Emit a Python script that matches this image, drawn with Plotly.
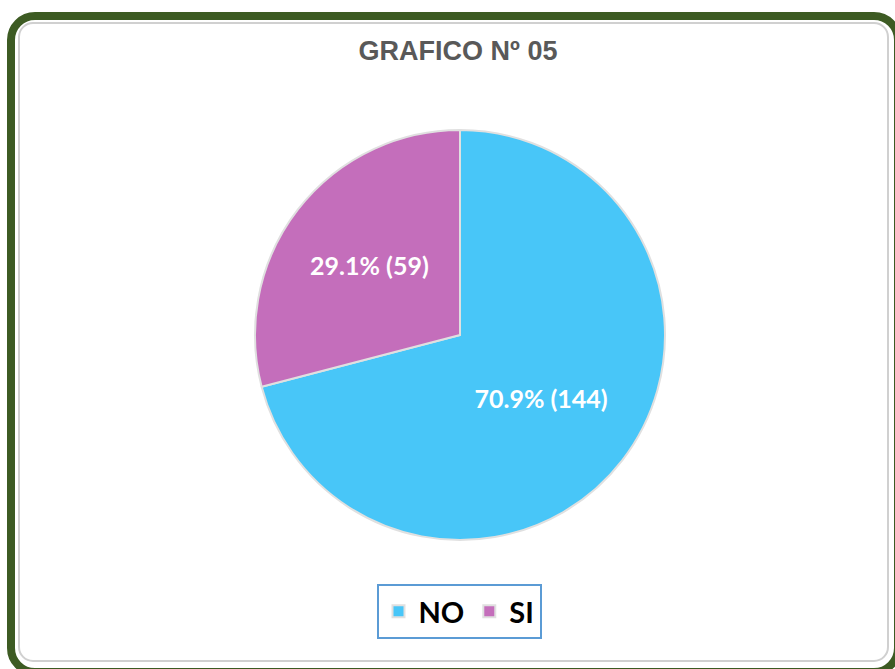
import plotly.graph_objects as go

categories = ["NO", "SI"]
values = [144, 59]
colors = ["#48C6F8", "#C46EBB"]
title_text = "GRAFICO Nº 05"

W, H = 895, 669

def px(x):
    return x / W

def py(y):
    return 1 - y / H

def rounded_path(x0, y0, x1, y1, r):
    k = 0.5523 * r
    pts = []
    pts.append(f"M {px(x0 + r)},{py(y0)}")
    pts.append(f"L {px(x1 - r)},{py(y0)}")
    pts.append(f"C {px(x1 - r + k)},{py(y0)} {px(x1)},{py(y0 + r - k)} {px(x1)},{py(y0 + r)}")
    pts.append(f"L {px(x1)},{py(y1 - r)}")
    pts.append(f"C {px(x1)},{py(y1 - r + k)} {px(x1 - r + k)},{py(y1)} {px(x1 - r)},{py(y1)}")
    pts.append(f"L {px(x0 + r)},{py(y1)}")
    pts.append(f"C {px(x0 + r - k)},{py(y1)} {px(x0)},{py(y1 - r + k)} {px(x0)},{py(y1 - r)}")
    pts.append(f"L {px(x0)},{py(y0 + r)}")
    pts.append(f"C {px(x0)},{py(y0 + r - k)} {px(x0 + r - k)},{py(y0)} {px(x0 + r)},{py(y0)}")
    pts.append("Z")
    return " ".join(pts)

fig = go.Figure()
fig.add_trace(go.Pie(
    labels=categories,
    values=values,
    sort=False,
    direction="clockwise",
    rotation=0,
    marker=dict(colors=colors, line=dict(color="#E0E0E0", width=2)),
    texttemplate="%{percent:.1%} (%{value})",
    textposition="inside",
    insidetextorientation="horizontal",
    textfont=dict(family="Lato, Open Sans, sans-serif", size=25, color="white", weight="bold"),
    domain=dict(x=[px(255), px(665)], y=[py(540), py(130)]),
    hoverinfo="label+value+percent",
))

fig.update_layout(
    width=W, height=H,
    margin=dict(l=0, r=0, t=0, b=0),
    paper_bgcolor="white",
    plot_bgcolor="white",
    title=dict(
        text=f"<b>{title_text}</b>",
        x=px(458), xanchor="center",
        y=py(51), yanchor="middle",
        font=dict(family="Liberation Sans, Arial, sans-serif", size=27, color="#595959"),
    ),
    showlegend=True,
    legend=dict(
        orientation="h",
        x=px(459), xanchor="center",
        y=py(584), yanchor="top",
        bordercolor="#5B9BD5",
        borderwidth=2,
        bgcolor="white",
        font=dict(family="Lato, Open Sans, sans-serif", size=29, color="black", weight="bold"),
        itemwidth=30,
    ),
    shapes=[
        dict(type="path", xref="paper", yref="paper", layer="below",
             path=rounded_path(11, 16, 898, 672, 24),
             line=dict(color="#3D5B23", width=8), fillcolor="rgba(0,0,0,0)"),
        dict(type="path", xref="paper", yref="paper", layer="below",
             path=rounded_path(19, 23, 888, 661, 14),
             line=dict(color="#D0D0D0", width=2), fillcolor="rgba(0,0,0,0)"),
    ],
)

fig.write_html("out.html", config={"displayModeBar": False},
               post_script="document.body.style.margin='0px';")
